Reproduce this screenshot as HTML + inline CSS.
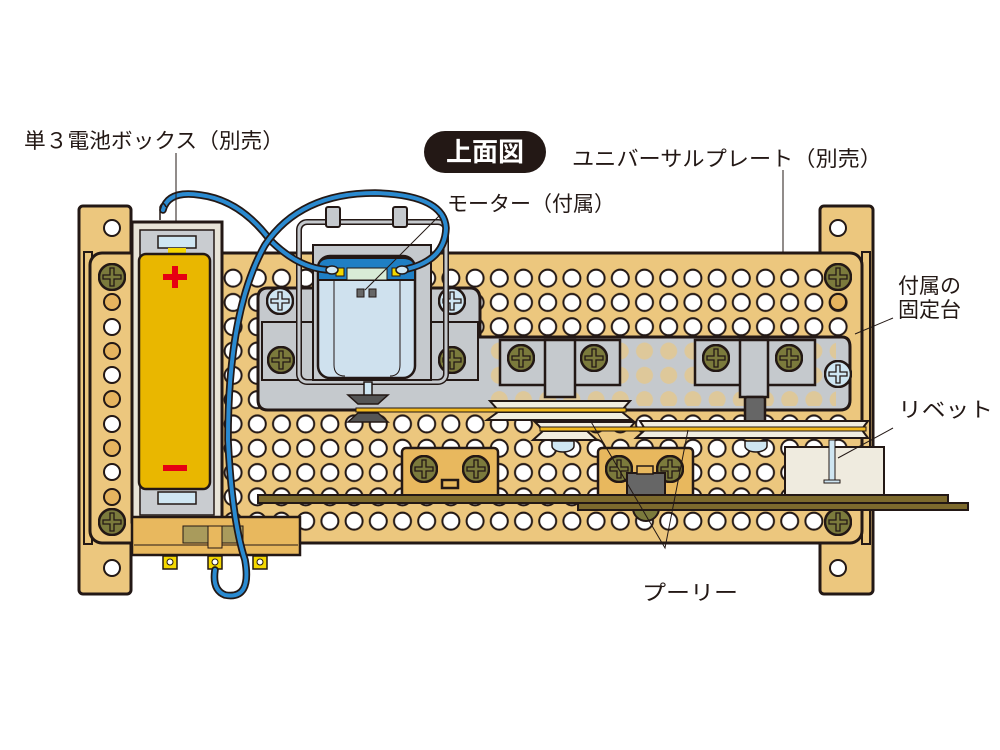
<!DOCTYPE html>
<html><head><meta charset="utf-8"><style>
html,body{margin:0;padding:0;background:#fff;width:1000px;height:750px;overflow:hidden}
svg{display:block}
text{font-family:"Liberation Sans","Noto Sans CJK JP",sans-serif;fill:#231815}
</style></head><body>
<svg width="1000" height="750" viewBox="0 0 1000 750" xmlns="http://www.w3.org/2000/svg">
<defs>
<pattern id="holes" patternUnits="userSpaceOnUse" x="221" y="266" width="24.2" height="24.3">
<circle cx="12.1" cy="12.15" r="8.5" fill="#fff" stroke="#231815" stroke-width="2"/>
</pattern>
<pattern id="tanholes" patternUnits="userSpaceOnUse" x="221" y="266" width="24.2" height="24.3">
<circle cx="12.1" cy="12.15" r="8.5" fill="#eec878"/>
</pattern>
<symbol id="so" viewBox="-14 -14 28 28"><circle r="13" fill="#7b7a3c" stroke="#231815" stroke-width="2.5"/><path d="M-2,-9H2V-2H9V2H2V9H-2V2H-9V-2H-2Z" fill="none" stroke="#231815" stroke-width="1.3"/></symbol>
<symbol id="sb" viewBox="-14 -14 28 28"><circle r="13" fill="#cfe6f2" stroke="#231815" stroke-width="2.5"/><path d="M-2,-9H2V-2H9V2H2V9H-2V2H-9V-2H-2Z" fill="none" stroke="#231815" stroke-width="1.3"/></symbol>
</defs>

<rect x="79" y="206" width="52" height="388" rx="4" fill="#ecc77e" stroke="#231815" stroke-width="3"/>
<circle cx="112" cy="228" r="8" fill="#fff" stroke="#231815" stroke-width="2"/>
<circle cx="112" cy="568" r="8" fill="#fff" stroke="#231815" stroke-width="2"/>
<rect x="820" y="206" width="53" height="388" rx="4" fill="#ecc77e" stroke="#231815" stroke-width="3"/>
<circle cx="838" cy="228" r="8" fill="#fff" stroke="#231815" stroke-width="2"/>
<circle cx="838" cy="568" r="8" fill="#fff" stroke="#231815" stroke-width="2"/>
<rect x="862" y="252" width="8" height="292" fill="#ecc77e" stroke="#231815" stroke-width="2"/>
<rect x="84" y="252" width="8" height="292" fill="#ecc77e" stroke="#231815" stroke-width="2"/>

<rect x="90" y="253" width="772" height="290" rx="12" fill="#ecc77e" stroke="#231815" stroke-width="3"/>
<rect x="221" y="266" width="630" height="268" fill="url(#holes)"/>
<g stroke="#231815" stroke-width="2">
<circle cx="112" cy="302" r="8" fill="#e6b45f"/><circle cx="112" cy="327" r="8" fill="#fff"/>
<circle cx="112" cy="351" r="8" fill="#e6b45f"/><circle cx="112" cy="375" r="8" fill="#fff"/>
<circle cx="112" cy="399" r="8" fill="#e6b45f"/><circle cx="112" cy="424" r="8" fill="#fff"/>
<circle cx="112" cy="448" r="8" fill="#e6b45f"/><circle cx="112" cy="472" r="8" fill="#fff"/>
<circle cx="112" cy="497" r="8" fill="#e6b45f"/>
<circle cx="838" cy="302" r="8" fill="#e6b45f"/>
</g>
<use href="#so" x="98" y="263" width="28" height="28"/>
<use href="#so" x="98" y="508" width="28" height="28"/>
<use href="#so" x="824" y="263" width="28" height="28"/>
<use href="#so" x="824" y="508" width="28" height="28"/>

<path d="M268,288 H470 Q480,288 480,300 V337 H842 Q850,337 850,347 V400 Q850,410 840,410 H268 Q258,410 258,400 V298 Q258,288 268,288Z" fill="#c5c9cd" stroke="#231815" stroke-width="3"/>
<rect x="486" y="342" width="350" height="64" fill="url(#tanholes)" opacity="0.6"/>
<use href="#sb" x="824" y="360" width="28" height="28"/>
<rect x="262" y="322" width="56" height="58" fill="#c5c9cd" stroke="#231815" stroke-width="2"/>
<rect x="428" y="322" width="50" height="58" fill="#c5c9cd" stroke="#231815" stroke-width="2"/>
<use href="#sb" x="266" y="287" width="28" height="28"/>
<use href="#sb" x="438" y="287" width="28" height="28"/>
<use href="#so" x="267" y="346" width="28" height="28"/>
<use href="#so" x="438" y="346" width="28" height="28"/>
<rect x="299" y="222" width="147" height="160" rx="8" fill="none" stroke="#231815" stroke-width="6"/>
<rect x="299" y="222" width="147" height="160" rx="8" fill="none" stroke="#c5c9cd" stroke-width="3"/>
<rect x="326" y="207" width="14" height="20" rx="2" fill="#c5c9cd" stroke="#231815" stroke-width="2"/>
<rect x="393" y="207" width="14" height="20" rx="2" fill="#c5c9cd" stroke="#231815" stroke-width="2"/>
<rect x="313" y="245" width="118" height="135" fill="#c5c9cd" stroke="#231815" stroke-width="2"/>
<rect x="318" y="256" width="97" height="122" rx="12" fill="#cfe1ee" stroke="#231815" stroke-width="2.5"/>
<path d="M318,280 V268 Q318,258 330,258 H403 Q415,258 415,268 V280Z" fill="#1f7fc4" stroke="#231815" stroke-width="2"/>
<rect x="347" y="268" width="40" height="12" fill="#d8ecd6" stroke="#231815" stroke-width="1"/>
<rect x="336" y="268" width="8" height="8" fill="#f5d800" stroke="#231815" stroke-width="1"/>
<rect x="392" y="268" width="8" height="8" fill="#f5d800" stroke="#231815" stroke-width="1"/>
<path d="M334,280 V365 Q334,376 345,376 M400,280 V365 Q400,376 390,376" fill="none" stroke="#231815" stroke-width="1"/>
<rect x="357" y="289" width="7" height="8" fill="#666" stroke="#231815" stroke-width="1"/>
<rect x="369" y="289" width="7" height="8" fill="#666" stroke="#231815" stroke-width="1"/>
<rect x="364" y="382" width="8" height="14" fill="#cfe6f2" stroke="#231815" stroke-width="1.5"/>
<path d="M348,395 H388 L378,404 H358Z" fill="#555" stroke="#231815" stroke-width="1.5"/>
<path d="M358,413 H378 L388,422 H348Z" fill="#555" stroke="#231815" stroke-width="1.5"/>

<g stroke="#231815" stroke-width="2.5">
<rect x="500" y="340" width="120" height="45" fill="#c5c9cd"/>
<rect x="545" y="340" width="30" height="57" fill="#c5c9cd"/>
<rect x="695" y="340" width="120" height="45" fill="#c5c9cd"/>
<rect x="740" y="340" width="28" height="57" fill="#c5c9cd"/>
<rect x="745" y="397" width="20" height="25" rx="2" fill="#666"/>
</g>
<use href="#so" x="507" y="344" width="28" height="28"/>
<use href="#so" x="580" y="344" width="28" height="28"/>
<use href="#so" x="702" y="344" width="28" height="28"/>
<use href="#so" x="775" y="344" width="28" height="28"/>

<g stroke="#231815" stroke-width="2">
<path d="M490,401 H630 L622,410 H498Z" fill="#f1ede0"/>
<path d="M498,412 H622 L632,420 H487Z" fill="#f1ede0"/>
<path d="M535,422 H635 L628,430 H543Z" fill="#f1ede0"/>
<path d="M543,431 H587 L597,440 H533Z" fill="#f1ede0"/>
<path d="M640,421 H868 L862,429 H645Z" fill="#f1ede0"/>
<path d="M645,430 H862 L868,438 H636Z" fill="#f1ede0"/>
</g>
<rect x="356" y="408" width="270" height="4" fill="#f2b91f" stroke="#231815" stroke-width="1"/>
<rect x="540" y="427" width="326" height="4" fill="#f2b91f" stroke="#231815" stroke-width="1"/>
<path d="M552,441 h22 v5 a11,6 0 0 1 -22,0Z" fill="#cfe6f2" stroke="#231815" stroke-width="1.5"/>
<path d="M745,441 h22 v5 a11,6 0 0 1 -22,0Z" fill="#cfe6f2" stroke="#231815" stroke-width="1.5"/>

<g stroke="#231815" stroke-width="2.5">
<rect x="402" y="448" width="96" height="50" rx="4" fill="#e8b85e"/>
<rect x="598" y="448" width="95" height="50" rx="4" fill="#e8b85e"/>
<path d="M442,488 V480 H458 V488Z" fill="#e8b85e"/>
</g>
<use href="#so" x="410" y="455" width="28" height="28"/>
<use href="#so" x="462" y="455" width="28" height="28"/>
<use href="#so" x="605" y="455" width="28" height="28"/>
<use href="#so" x="656" y="455" width="28" height="28"/>
<circle cx="646" cy="508" r="13" fill="#7b7a3c" stroke="#231815" stroke-width="2"/>
<rect x="627" y="473" width="38" height="25" fill="#666" stroke="#231815" stroke-width="2"/>
<rect x="637" y="466" width="16" height="8" fill="#e8b85e" stroke="#231815" stroke-width="1.5"/>

<rect x="785" y="447" width="99" height="50" fill="#efebdf" stroke="#231815" stroke-width="2"/>
<rect x="829" y="440" width="6" height="42" fill="#cfe6f2" stroke="#231815" stroke-width="1"/>
<rect x="824" y="480" width="16" height="3" fill="#cfe6f2" stroke="#231815" stroke-width="1"/>

<rect x="258" y="495" width="690" height="8" fill="#7d6a2d" stroke="#231815" stroke-width="2"/>
<rect x="578" y="503" width="390" height="7" fill="#7d6a2d" stroke="#231815" stroke-width="2"/>

<rect x="132" y="222" width="90" height="300" fill="#e8e4d8" stroke="#231815" stroke-width="3"/>
<rect x="140" y="230" width="74" height="285" fill="#c9ccd0" stroke="#231815" stroke-width="1.5"/>
<rect x="158" y="236" width="38" height="12" fill="#cfe6f2" stroke="#231815" stroke-width="1.5"/>
<rect x="168" y="248" width="18" height="6" fill="#f5d800"/>
<rect x="158" y="492" width="38" height="12" fill="#cfe6f2" stroke="#231815" stroke-width="1.5"/>
<rect x="139" y="254" width="71" height="235" rx="7" fill="#e9b700" stroke="#231815" stroke-width="2.5"/>
<path d="M172,266 h6 v8 h9 v6 h-9 v8 h-6 v-8 h-9 v-6 h9Z" fill="#e60012"/>
<rect x="163" y="465" width="24" height="6" fill="#e60012"/>
<rect x="132" y="517" width="168" height="38" fill="#e8b85e" stroke="#231815" stroke-width="2.5"/>
<line x1="134" y1="545" x2="298" y2="545" stroke="#231815" stroke-width="1"/>
<rect x="183" y="526" width="60" height="17" fill="#a99b5c" stroke="#231815" stroke-width="1"/>
<rect x="208" y="526" width="14" height="22" fill="#e8b85e" stroke="#231815" stroke-width="1"/>
<g fill="#f5d800" stroke="#231815" stroke-width="1.5">
<rect x="163" y="556" width="14" height="13"/><rect x="208" y="556" width="14" height="13"/><rect x="253" y="556" width="14" height="13"/>
</g>
<g fill="#fff" stroke="#231815" stroke-width="1"><circle cx="170" cy="562" r="3"/><circle cx="215" cy="562" r="3"/><circle cx="260" cy="562" r="3"/></g>

<g fill="none" stroke-linecap="round">
<path d="M163,210 Q168,190 200,195 Q240,200 270,240 Q300,270 332,270" stroke="#231815" stroke-width="7.5"/>
<path d="M163,210 Q168,190 200,195 Q240,200 270,240 Q300,270 332,270" stroke="#2a8ad0" stroke-width="4"/>
<path d="M402,270 Q445,262 446,228 Q444,195 375,193 Q300,193 265,245 Q228,310 228,440 Q232,520 245,560 Q252,600 225,595 Q212,590 215,570" stroke="#231815" stroke-width="7.5"/>
<path d="M402,270 Q445,262 446,228 Q444,195 375,193 Q300,193 265,245 Q228,310 228,440 Q232,520 245,560 Q252,600 225,595 Q212,590 215,570" stroke="#2a8ad0" stroke-width="4"/>
</g>
<ellipse cx="332" cy="270" rx="6" ry="4" fill="#cfe6f2" stroke="#231815" stroke-width="1.5"/>
<ellipse cx="402" cy="270" rx="6" ry="4" fill="#cfe6f2" stroke="#231815" stroke-width="1.5"/>
<path d="M160,220 V207 Q163,200 166,207" fill="none" stroke="#231815" stroke-width="1.5"/>

<g stroke="#231815" stroke-width="1" fill="none">
<line x1="176" y1="153" x2="176" y2="222"/>
<line x1="783" y1="170" x2="783" y2="253"/>
<line x1="440" y1="215" x2="365" y2="290"/>
<line x1="893" y1="318" x2="855" y2="334"/>
<line x1="893" y1="428" x2="838" y2="458"/>
<polyline points="590,420 665,548 688,430"/>
</g>

<text x="24" y="148" font-size="21" textLength="260" lengthAdjust="spacingAndGlyphs">単３電池ボックス（別売）</text>
<rect x="424" y="131" width="122" height="42" rx="21" fill="#231815"/>
<text x="485" y="161" font-size="26" font-weight="bold" text-anchor="middle" style="fill:#fff">上面図</text>
<text x="572" y="166" font-size="21" textLength="310" lengthAdjust="spacingAndGlyphs">ユニバーサルプレート（別売）</text>
<text x="447" y="211" font-size="21" textLength="168" lengthAdjust="spacingAndGlyphs">モーター（付属）</text>
<text x="898" y="293" font-size="21">付属の</text>
<text x="898" y="317" font-size="21">固定台</text>
<text x="898" y="417" font-size="21" textLength="95" lengthAdjust="spacingAndGlyphs">リベット</text>
<text x="642" y="600" font-size="21" textLength="96" lengthAdjust="spacingAndGlyphs">プーリー</text>
</svg>
</body></html>
